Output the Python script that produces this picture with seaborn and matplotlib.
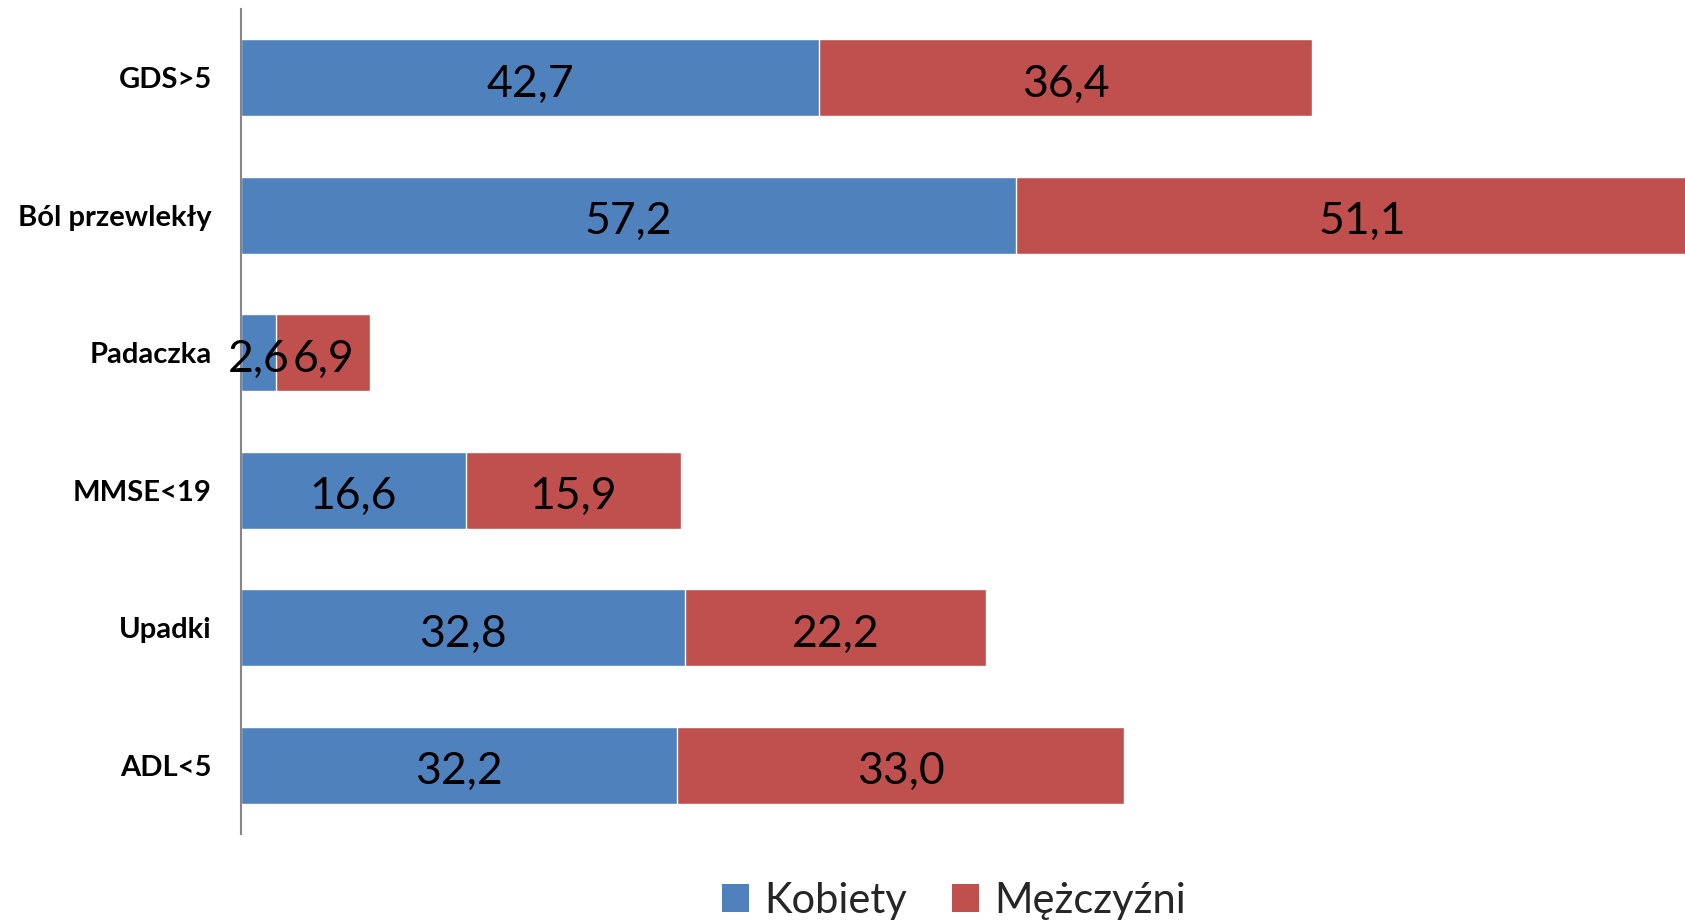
import matplotlib
matplotlib.use("Agg")
import matplotlib.pyplot as plt
import seaborn as sns
import pandas as pd
from matplotlib.patches import Patch

categories = ["GDS>5", "Ból przewlekły", "Padaczka", "MMSE<19", "Upadki", "ADL<5"]
kobiety = [42.7, 57.2, 2.6, 16.6, 32.8, 32.2]
mezczyzni = [36.4, 51.1, 6.9, 15.9, 22.2, 33.0]
series_names = ["Kobiety", "Mężczyźni"]

BLUE = "#4F81BD"
RED = "#C0504D"

sns.set_theme(style="white")
plt.rcParams['font.family'] = ['Lato', 'DejaVu Sans']

df = pd.DataFrame({"cat": categories, "k": kobiety, "m": mezczyzni})
df["total"] = df["k"] + df["m"]

fig = plt.figure(figsize=(16.85, 9.24), dpi=100)
ax = fig.add_axes([241/1685, 1-834/924, 1-241/1685, 825/924])

sns.barplot(data=df, x="total", y="cat", color=RED, saturation=1, width=0.56, ax=ax, orient="h")
sns.barplot(data=df, x="k", y="cat", color=BLUE, saturation=1, width=0.56, ax=ax, orient="h")

def fmt(v):
    return f"{v:.1f}".replace(".", ",")

for i, row in df.iterrows():
    ax.annotate(fmt(row["k"]), (row["k"] / 2, i), xytext=(0, -4.5), textcoords="offset points",
                ha="center", va="center", fontsize=32, color="black", annotation_clip=False)
    ax.annotate(fmt(row["m"]), (row["k"] + row["m"] / 2, i), xytext=(0, -4.5), textcoords="offset points",
                ha="center", va="center", fontsize=32, color="black", annotation_clip=False)

ax.set_xlim(0, 106.6)
ax.set_ylim(5.5, -0.5)
ax.set_xlabel("")
ax.set_ylabel("")
ax.set_xticks([])
for s in ["top", "right", "bottom"]:
    ax.spines[s].set_visible(False)
ax.spines["left"].set_color("#868686")
ax.spines["left"].set_linewidth(1.5)
ax.tick_params(axis="y", length=0, pad=21)
for lbl in ax.get_yticklabels():
    lbl.set_fontweight("bold")
    lbl.set_fontsize(21)
    lbl.set_color("black")

handles = [Patch(facecolor=BLUE, edgecolor="none"), Patch(facecolor=RED, edgecolor="none")]
fig.legend(handles, series_names, loc="center", bbox_to_anchor=(954/1685, 1-901/924), ncol=2,
           frameon=False, fontsize=30, handlelength=0.65, handleheight=0.65,
           handletextpad=0.36, columnspacing=1.08, borderaxespad=0, borderpad=0)

fig.savefig("out.png", dpi=100)
